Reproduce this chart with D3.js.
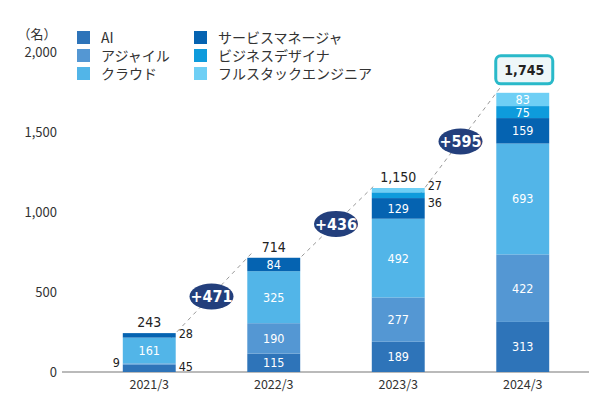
<!DOCTYPE html>
<html>
<head>
<meta charset="utf-8">
<script src="https://cdn.jsdelivr.net/npm/d3@7"></script>
<style>
  html, body { margin: 0; padding: 0; background: #fff; }
  svg { display: block; }
</style>
</head>
<body>
<svg id="chart" width="589" height="399"></svg>
<script>
// Engineer headcount by skill category, fiscal years ending March
const years = ["2021/3", "2022/3", "2023/3", "2024/3"];
const seriesNames = ["AI", "アジャイル", "クラウド", "サービスマネージャ", "ビジネスデザイナ", "フルスタックエンジニア"];
const aiValues = [45, 115, 189, 313];
const agileValues = [9, 190, 277, 422];
const cloudValues = [161, 325, 492, 693];
const serviceMgrValues = [28, 84, 129, 159];
const bizDesignValues = [0, 0, 36, 75];
const fullStackValues = [0, 0, 27, 83];
const totals = [243, 714, 1150, 1745];
const increases = ["+471", "+436", "+595"];
const yTicks = [0, 500, 1000, 1500, 2000];
const colors = ["#2e74b9", "#5497d3", "#52b5e8", "#0563b1", "#0e9bdc", "#6ecff5"];

const seriesValues = [aiValues, agileValues, cloudValues, serviceMgrValues, bizDesignValues, fullStackValues];
const rows = years.map((y, i) => {
  const r = { year: y };
  seriesNames.forEach((s, k) => r[s] = seriesValues[k][i]);
  return r;
});
const stacked = d3.stack().keys(seriesNames)(rows);

const svg = d3.select("#chart");
const numFont = "'DejaVu Sans Condensed', 'Roboto', sans-serif";
const jpFont = "'Noto Sans CJK JP', 'Noto Sans', sans-serif";

const x = d3.scaleBand().domain(years).range([87, 585]).paddingInner(0.575).paddingOuter(0.2875);
const y = d3.scaleLinear().domain([0, 2000]).range([372, 52]);

// y axis labels (no axis line)
const yAxis = svg.append("g").attr("transform", "translate(62,0)")
  .call(d3.axisLeft(y).tickValues(yTicks).tickSize(0).tickPadding(5).tickFormat(d3.format(",")));
yAxis.select(".domain").remove();
yAxis.selectAll("text").attr("font-family", jpFont).attr("font-size", 13).attr("fill", "#333");

svg.append("text").attr("x", 37).attr("y", 39).attr("text-anchor", "middle")
  .attr("font-family", jpFont).attr("font-size", 13).attr("fill", "#333").text("（名）");

// x axis
const xAxis = svg.append("g").attr("transform", "translate(0,372)")
  .call(d3.axisBottom(x).tickSize(0).tickPadding(8));
xAxis.select(".domain").remove();
xAxis.selectAll("text").attr("font-family", jpFont).attr("font-size", 12.5).attr("fill", "#333");
svg.append("line").attr("x1", 62).attr("x2", 589).attr("y1", 372).attr("y2", 372)
  .attr("stroke", "#777").attr("stroke-width", 1.2);

// dashed connectors between bar tops
const connectors = years.slice(1).map((yr, i) => ({
  x1: x(years[i]) + x.bandwidth(), y1: y(totals[i]),
  x2: x(yr), y2: y(totals[i + 1]), label: increases[i]
}));
svg.append("g").selectAll("line").data(connectors).join("line")
  .attr("x1", d => d.x1 - (d.x2 - d.x1) * 0.06).attr("y1", d => d.y1 - (d.y2 - d.y1) * 0.06)
  .attr("x2", d => d.x2 + (d.x2 - d.x1) * 0.06).attr("y2", d => d.y2 + (d.y2 - d.y1) * 0.06)
  .attr("stroke", "#999").attr("stroke-width", 1).attr("stroke-dasharray", "4,4");

// stacked bars
const layers = svg.append("g").selectAll("g").data(stacked).join("g")
  .attr("fill", (d, i) => colors[i]);
layers.selectAll("rect").data(d => d).join("rect")
  .attr("x", d => x(d.data.year))
  .attr("width", x.bandwidth())
  .attr("y", d => y(d[1]))
  .attr("height", d => y(d[0]) - y(d[1]));

// segment value labels
const segLabels = [];
stacked.forEach((layer, k) => {
  layer.forEach((d, i) => {
    const v = d[1] - d[0];
    if (v <= 0) return;
    const h = y(d[0]) - y(d[1]);
    const cx = x(d.data.year) + x.bandwidth() / 2;
    const cy = (y(d[0]) + y(d[1])) / 2;
    if (h >= 11) {
      segLabels.push({ x: cx, y: cy, v, anchor: "middle", fill: "#fff" });
    } else {
      segLabels.push({ v, k, i, y0: y(d[0]), y1: y(d[1]) });
    }
  });
});
// labels too small to fit inside are placed beside the bar
const outside = segLabels.filter(d => d.anchor === undefined).map(d => {
  const right = x(years[d.i]) + x.bandwidth() + 3;
  const left = x(years[d.i]) - 3;
  if (d.i === 0 && d.k === 0) return { x: right, y: 366, v: d.v, anchor: "start", fill: "#222" };
  if (d.i === 0 && d.k === 1) return { x: left, y: 362, v: d.v, anchor: "end", fill: "#222" };
  if (d.i === 0 && d.k === 3) return { x: right, y: 333, v: d.v, anchor: "start", fill: "#222" };
  if (d.k === 5) return { x: right, y: (d.y0 + d.y1) / 2 - 5, v: d.v, anchor: "start", fill: "#222" };
  if (d.k === 4) return { x: right, y: (d.y0 + d.y1) / 2 + 7, v: d.v, anchor: "start", fill: "#222" };
  return { x: right, y: (d.y0 + d.y1) / 2, v: d.v, anchor: "start", fill: "#222" };
});
svg.append("g").selectAll("text").data(segLabels.filter(d => d.anchor).concat(outside)).join("text")
  .attr("x", d => d.x).attr("y", d => d.y).attr("dy", "0.36em")
  .attr("text-anchor", d => d.anchor).attr("fill", d => d.fill)
  .attr("font-family", numFont).attr("font-size", 12.5).text(d => d.v);

// totals
svg.append("g").selectAll("text").data(totals.slice(0, 3)).join("text")
  .attr("x", (d, i) => x(years[i]) + x.bandwidth() / 2)
  .attr("y", d => y(d) - 6)
  .attr("text-anchor", "middle").attr("fill", "#222")
  .attr("font-family", numFont).attr("font-size", 14).attr("font-weight", 500)
  .text(d => d3.format(",")(d));

// highlighted latest total
const lastX = x(years[3]) + x.bandwidth() / 2;
const lastY = y(totals[3]);
svg.append("rect").attr("x", lastX - 27).attr("y", lastY - 37).attr("width", 57).attr("height", 28)
  .attr("rx", 5).attr("fill", "#eef7f9").attr("stroke", "#29b9c9").attr("stroke-width", 3);
svg.append("text").attr("x", lastX + 1.5).attr("y", lastY - 23).attr("dy", "0.36em")
  .attr("text-anchor", "middle").attr("fill", "#222")
  .attr("font-family", numFont).attr("font-size", 14).attr("font-weight", "bold")
  .text(d3.format(",")(totals[3]));

// increase badges
const badges = svg.append("g").selectAll("g").data(connectors).join("g")
  .attr("transform", d => `translate(${(d.x1 + d.x2) / 2},${(d.y1 + d.y2) / 2 + 1})`);
badges.append("ellipse").attr("rx", 22).attr("ry", 13).attr("fill", "#233f7c");
badges.append("text").attr("dy", "0.36em").attr("text-anchor", "middle").attr("fill", "#fff")
  .attr("font-family", numFont).attr("font-size", 16).attr("font-weight", "bold").text(d => d.label);

// legend
const legend = svg.append("g").selectAll("g").data(seriesNames).join("g")
  .attr("transform", (d, i) => `translate(${i < 3 ? 77 : 194},${31 + (i % 3) * 18})`);
legend.append("rect").attr("width", 13).attr("height", 13).attr("fill", (d, i) => colors[i]);
legend.append("text").attr("x", 24).attr("y", 7).attr("dy", "0.36em")
  .attr("font-family", jpFont).attr("font-size", 14).attr("fill", "#333").text(d => d);
</script>
</body>
</html>
